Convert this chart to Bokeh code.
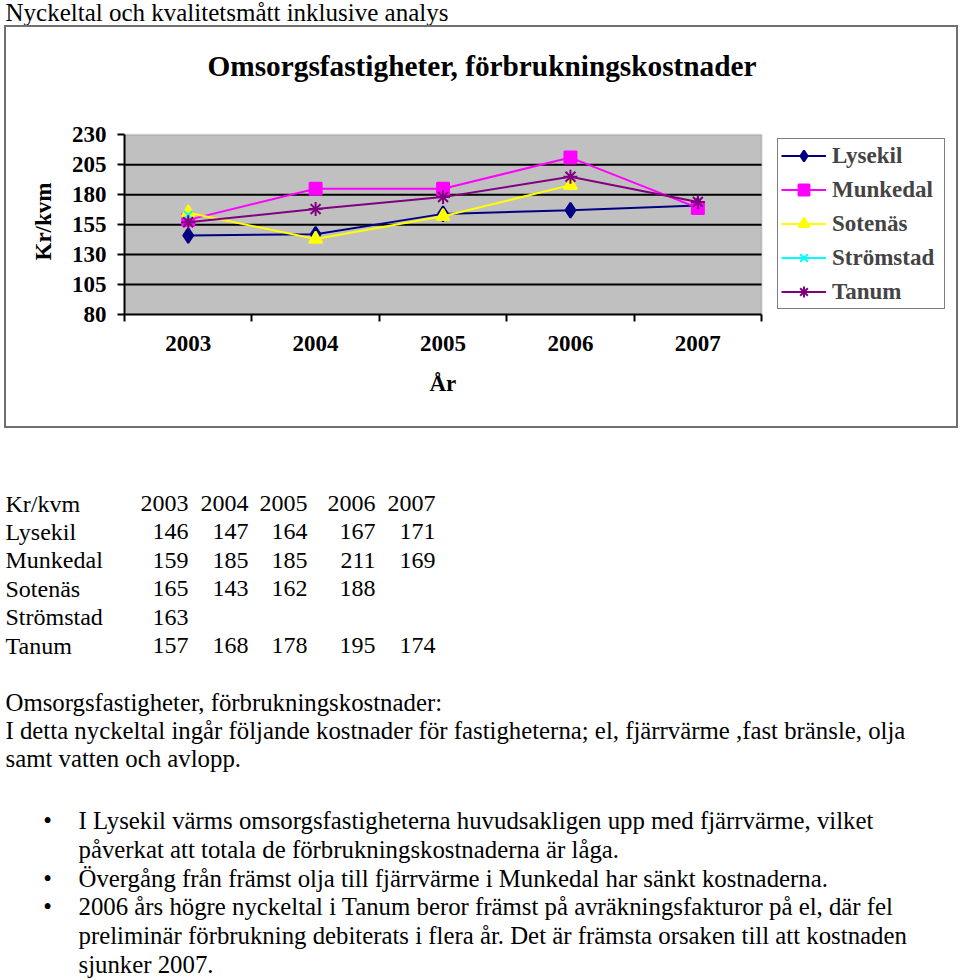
import numpy as np
from bokeh.plotting import figure
from bokeh.models import (ColumnDataSource, Range1d, FixedTicker, Legend, LegendItem, Label,
                          BoxAnnotation, Title)
from bokeh.core.properties import value
from bokeh.embed import file_html
from bokeh.resources import INLINE

# ---------------- data ----------------
years = ["2003", "2004", "2005", "2006", "2007"]
series_names = ["Lysekil", "Munkedal", "Sotenäs", "Strömstad", "Tanum"]
lysekil = [146, 147, 164, 167, 171]
munkedal = [159, 185, 185, 211, 169]
sotenas = [165, 143, 162, 188, None]
stromstad = [163, None, None, None, None]
tanum = [157, 168, 178, 195, 174]
y_ticks = [80, 105, 130, 155, 180, 205, 230]

page_title = "Nyckeltal och kvalitetsmått inklusive analys"
chart_title = "Omsorgsfastigheter, förbrukningskostnader"
x_label = "År"
y_label = "Kr/kvm"
table_header = "Kr/kvm"
intro_lines = [
    "Omsorgsfastigheter, förbrukningskostnader:",
    "I detta nyckeltal ingår följande kostnader för fastigheterna; el, fjärrvärme ,fast bränsle, olja",
    "samt vatten och avlopp.",
]
bullet_lines = [
    ("•", "I Lysekil värms omsorgsfastigheterna huvudsakligen upp med fjärrvärme, vilket"),
    ("", "påverkat att totala de förbrukningskostnaderna är låga."),
    ("•", "Övergång från främst olja till fjärrvärme i Munkedal har sänkt kostnaderna."),
    ("•", "2006 års högre nyckeltal i Tanum beror främst på avräkningsfakturor på el, där fel"),
    ("", "preliminär förbrukning debiterats i flera år. Det är främsta orsaken till att kostnaden"),
    ("", "sjunker 2007."),
]

all_series = [lysekil, munkedal, sotenas, stromstad, tanum]

# ---------------- styles ----------------
FONT = "Liberation Serif"
colors = ["#000080", "#FF00FF", "#FFFF00", "#00FFFF", "#800080"]
markers = ["diamond", "square", "triangle", "x", "asterisk"]
msizes = [15, 12, 13, 12, 14]

W = 960

# ---------------- header ----------------
HH = 25
head = figure(width=W, height=HH, x_range=Range1d(0, W), y_range=Range1d(HH, 0),
              output_backend="svg", toolbar_location=None,
              x_axis_type=None, y_axis_type=None, min_border=0)
head.outline_line_color = None
head.text(x=[5], y=[12], text=[page_title], text_font=value(FONT),
          text_font_size="25px", text_baseline="middle", text_color="black")

# ---------------- chart ----------------
# canvas 950x399 inside a 2px border; frame covers plot area + legend/title room
CW, CH = 950, 399
FL, FR, FT, FB = 118, 8, 18, 116
PLOT_W, PLOT_H = 634, 177          # pixel size of the grey plot area
frame_w = CW - FL - FR
frame_h = CH - FT - FB
xpos = [i + 1 for i in range(len(years))]
x0, x1 = xpos[0] - 0.5, xpos[-1] + 0.5
y0, y1 = y_ticks[0], y_ticks[-1]
x_end = x0 + (x1 - x0) * frame_w / PLOT_W
y_end = y0 + (y1 - y0) * frame_h / PLOT_H

p = figure(width=CW, height=CH, x_range=Range1d(x0, x_end), y_range=Range1d(y0, y_end),
           output_backend="svg", toolbar_location=None,
           min_border_left=FL, min_border_right=FR, min_border_top=FT, min_border_bottom=FB)
p.styles = {"border": "2px solid #707070", "margin-left": "4px", "box-sizing": "content-box"}
p.background_fill_color = "white"
p.border_fill_color = "white"
p.outline_line_color = None
p.xgrid.visible = False
p.ygrid.visible = False

plot_bg = BoxAnnotation(left=x0, right=x1, bottom=y0, top=y1, fill_color="#C0C0C0",
                        fill_alpha=1, line_color="#808080", line_width=2, level="underlay")
p.add_layout(plot_bg)

# horizontal gridlines across the grey plot area
gy = y_ticks[1:-1]
p.segment(x0=[x0] * len(gy), x1=[x1] * len(gy), y0=gy, y1=gy,
          line_color="black", line_width=2)

xa = p.xaxis[0]
xa.bounds = (x0, x1)
xa.ticker = FixedTicker(ticks=xpos, minor_ticks=[x - 0.5 for x in xpos] + [xpos[-1] + 0.5])
xa.major_label_overrides = {x: y for x, y in zip(xpos, years)}
xa.major_tick_line_color = None
xa.major_tick_out = 0
xa.major_tick_in = 0
xa.minor_tick_out = 7
xa.minor_tick_in = 0
xa.minor_tick_line_color = "black"
xa.minor_tick_line_width = 2
xa.major_label_standoff = 14

ya = p.yaxis[0]
ya.bounds = (y0, y1)
ya.ticker = FixedTicker(ticks=y_ticks)
ya.major_tick_out = 7
ya.major_tick_in = 0
ya.major_tick_line_width = 2
ya.minor_tick_line_color = None
ya.major_label_standoff = 11

for ax in (xa, ya):
    ax.axis_line_color = "black"
    ax.axis_line_width = 2
    ax.major_label_text_font = FONT
    ax.major_label_text_font_style = "bold"
    ax.major_label_text_font_size = "23px"
    ax.major_label_text_color = "black"

# axis titles placed with offsets from the plot area's corner
ylab = Title(text=y_label, align="left", offset=54, standoff=26, vertical_align="bottom",
             text_font=FONT, text_font_size="23px", text_font_style="bold", text_color="black")
p.add_layout(ylab, "left")
xlab = Title(text=x_label, align="left", offset=305, standoff=35, vertical_align="top",
             text_font=FONT, text_font_size="23px", text_font_style="bold", text_color="black")
p.add_layout(xlab, "below")

items = []
for name, vals, c, m, s in zip(series_names, all_series, colors, markers, msizes):
    src = ColumnDataSource(dict(x=xpos, y=np.array(vals, dtype=float)))
    r1 = p.line("x", "y", source=src, line_color=c, line_width=2)
    r2 = p.scatter("x", "y", source=src, marker=m, size=s, fill_color=c,
                   line_color=c, line_width=2)
    items.append(LegendItem(label=name, renderers=[r1, r2]))

legend = Legend(items=items, location=(653, 5), border_line_color="black",
                border_line_width=1.5, padding=3, spacing=7, label_height=27,
                glyph_height=27, glyph_width=45, label_standoff=6, label_width=109,
                label_text_font=FONT, label_text_font_style="bold",
                label_text_font_size="23px", margin=0,
                background_fill_color="white", background_fill_alpha=1)
p.add_layout(legend, "center")

title_lbl = Label(x=83, y=249, x_units="screen", y_units="screen", text=chart_title,
                  text_font=FONT, text_font_size="29.3px", text_font_style="bold",
                  text_color="black", text_baseline="middle", text_align="left")
p.add_layout(title_lbl)

# ---------------- text below ----------------
TH = 552
t = figure(width=W, height=TH, x_range=Range1d(0, W), y_range=Range1d(TH, 0),
           output_backend="svg", toolbar_location=None,
           x_axis_type=None, y_axis_type=None, min_border=0)
t.outline_line_color = None

col_x = [188, 248, 307, 375, 435]
row_y0, row_pitch = 75, 28.4
TFS = "24px"

lab_x = [5] * (len(series_names) + 1)
lab_y = [row_y0 + i * row_pitch for i in range(len(series_names) + 1)]
lab_t = [table_header] + series_names
t.text(x=lab_x, y=lab_y, text=lab_t, text_font=value(FONT), text_font_size=TFS,
       text_baseline="middle", text_align="left", text_color="black")

vx, vy, vt = [], [], []
for j, yr in enumerate(years):
    vx.append(col_x[j]); vy.append(row_y0); vt.append(yr)
for i, vals in enumerate(all_series):
    for j, v in enumerate(vals):
        if v is not None:
            vx.append(col_x[j]); vy.append(row_y0 + (i + 1) * row_pitch); vt.append(str(v))
t.text(x=vx, y=vy, text=vt, text_font=value(FONT), text_font_size=TFS,
       text_baseline="middle", text_align="right", text_color="black")

PFS = "24.8px"
iy0, ipitch = 274, 28
t.text(x=[5] * len(intro_lines), y=[iy0 + i * ipitch for i in range(len(intro_lines))],
       text=intro_lines, text_font=value(FONT), text_font_size=PFS,
       text_baseline="middle", text_align="left", text_color="black")

by0, bpitch = 392, 28.8
b_y = [by0 + i * bpitch for i in range(len(bullet_lines))]
t.text(x=[78] * len(bullet_lines), y=b_y, text=[b[1] for b in bullet_lines],
       text_font=value(FONT), text_font_size=PFS,
       text_baseline="middle", text_align="left", text_color="black")
bul_y = [yy for yy, b in zip(b_y, bullet_lines) if b[0]]
t.text(x=[47] * len(bul_y), y=bul_y, text=["•"] * len(bul_y),
       text_font=value(FONT), text_font_size=PFS,
       text_baseline="middle", text_align="center", text_color="black")

open("out.html", "w").write(file_html([head, p, t], INLINE))
